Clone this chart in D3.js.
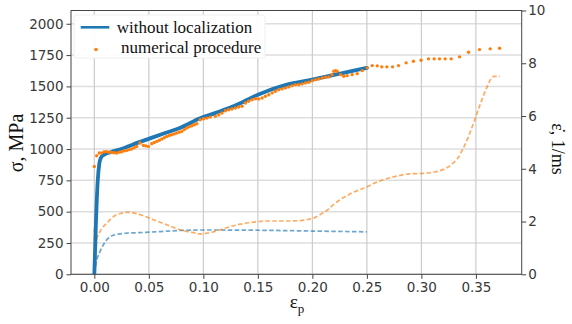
<!DOCTYPE html>
<html>
<head>
<meta charset="utf-8">
<script src="https://cdn.jsdelivr.net/npm/d3@7"></script>
<style>
  html, body { margin: 0; padding: 0; background: #fff; }
  svg { display: block; }
  .tick text { font-family: "DejaVu Sans", sans-serif; font-size: 13.5px; fill: #383838; }
  .tick line { stroke: #444; }
</style>
</head>
<body>
<svg id="chart" width="572" height="324"></svg>
<script>
// Stress–strain response (left axis, MPa)
const blueStrain = [0, 0.0015, 0.003, 0.0045, 0.006, 0.009, 0.015, 0.024, 0.035, 0.051, 0.065, 0.079, 0.097, 0.11, 0.1276, 0.15, 0.1766, 0.2, 0.2255, 0.25];
const blueStress = [0, 420, 730, 880, 930, 955, 975, 998, 1035, 1085, 1128, 1170, 1245, 1285, 1341, 1434, 1514, 1554, 1602, 1648];

// Numerical procedure points (left axis, MPa)
const dotStrain = [0.0, 0.0022, 0.0045, 0.0068, 0.0091, 0.0114, 0.0137, 0.016, 0.0183, 0.0206, 0.0229, 0.0251, 0.0274, 0.0297, 0.032, 0.0343, 0.0366, 0.0389, 0.0419, 0.045, 0.0473, 0.0496, 0.0527, 0.055, 0.0573, 0.0596, 0.0619, 0.0642, 0.0664, 0.0687, 0.071, 0.0733, 0.0756, 0.0779, 0.0802, 0.0825, 0.0848, 0.0871, 0.0894, 0.0917, 0.094,
  0.0972, 0.1003, 0.1033, 0.1064, 0.111, 0.1141, 0.1171, 0.1202, 0.1233, 0.1263, 0.1294, 0.1324, 0.1355, 0.1386, 0.1416, 0.1447, 0.1478, 0.1508, 0.1539, 0.1569, 0.16, 0.1631, 0.1661, 0.1692, 0.1722, 0.1753, 0.1784, 0.1814, 0.1845, 0.1876, 0.1906, 0.1937, 0.1967, 0.1998, 0.2029, 0.2059, 0.209, 0.212, 0.2151, 0.2181, 0.2197, 0.2212, 0.2227, 0.2258, 0.2288, 0.2319, 0.2365, 0.2411, 0.2457, 0.2503, 0.2549, 0.2595,
  0.2637, 0.2683, 0.2735, 0.279, 0.286, 0.2927, 0.2997, 0.3065, 0.3117, 0.3166, 0.3218, 0.3273, 0.335, 0.3432, 0.3533, 0.3631, 0.3717];
const dotStress = [861, 946, 968, 968, 978, 978, 975, 973, 970, 968, 975, 978, 985, 989, 995, 1000, 1010, 1021, 1048, 1029, 1025, 1021, 1042, 1052, 1061, 1070, 1080, 1090, 1101, 1108, 1114, 1121, 1128, 1135, 1141, 1155, 1168, 1177, 1186, 1194, 1202,
  1234, 1242, 1247, 1255, 1261, 1274, 1288, 1306, 1314, 1320, 1328, 1336, 1341, 1368, 1381, 1394, 1402, 1400, 1408, 1421, 1434, 1448, 1461, 1474, 1480, 1488, 1496, 1506, 1514, 1514, 1520, 1528, 1533, 1546, 1554, 1560, 1568, 1573, 1576, 1594, 1621, 1626, 1621, 1594, 1581, 1586, 1594, 1602, 1626, 1648, 1666, 1664,
  1656, 1656, 1656, 1666, 1688, 1701, 1709, 1720, 1720, 1720, 1720, 1720, 1736, 1773, 1794, 1800, 1805];

// Strain rate (right axis, 1/ms)
const rateBlueStrain = [0, 0.0022, 0.0052, 0.0083, 0.0128, 0.019, 0.0297, 0.042, 0.0603, 0.0786, 0.097, 0.15, 0.2, 0.25];
const rateBlue = [0.05, 0.54, 0.86, 1.12, 1.37, 1.5, 1.56, 1.58, 1.62, 1.66, 1.68, 1.67, 1.64, 1.61];

const rateOrangeStrain = [0, 0.0006, 0.0022, 0.0052, 0.0114, 0.0206, 0.0312, 0.042, 0.0541, 0.0664, 0.0786, 0.0909, 0.097, 0.106, 0.1156, 0.1248, 0.134, 0.1429, 0.1505, 0.158, 0.167, 0.1766, 0.1857, 0.1949, 0.201, 0.207, 0.2133, 0.2193, 0.2255, 0.2316, 0.2377, 0.2438, 0.25, 0.256, 0.2622, 0.2713, 0.2805, 0.2897, 0.2989, 0.308, 0.3157, 0.3234, 0.3295, 0.3326, 0.338, 0.343, 0.348, 0.354, 0.36, 0.3647, 0.3665, 0.372];
const rateOrange = [1.75, 0.1, 1.31, 1.62, 1.94, 2.26, 2.35, 2.26, 2.07, 1.88, 1.69, 1.58, 1.53, 1.58, 1.69, 1.81, 1.9, 1.96, 2.0, 2.02, 2.02, 2.02, 2.03, 2.07, 2.13, 2.26, 2.42, 2.64, 2.83, 2.98, 3.11, 3.21, 3.31, 3.44, 3.54, 3.66, 3.75, 3.81, 3.82, 3.85, 3.91, 4.04, 4.23, 4.35, 4.75, 5.2, 5.75, 6.45, 7.08, 7.46, 7.5, 7.5];

const xTicks = [0, 0.05, 0.10, 0.15, 0.20, 0.25, 0.30, 0.35];
const leftTicks = [0, 250, 500, 750, 1000, 1250, 1500, 1750, 2000];
const rightTicks = [0, 2, 4, 6, 8, 10];

const BLUE = "#1f77b4", ORANGE = "#ff7f0e";
const L = 71, R = 521.7, T = 10.5, B = 274.3;

const svg = d3.select("#chart");
const x = d3.scaleLinear().domain([-0.0214, 0.392]).range([L, R]);
const yL = d3.scaleLinear().domain([0, 2106]).range([B, T]);
const yR = d3.scaleLinear().domain([0, 10]).range([B, T]);

// grid
const grid = svg.append("g");
grid.selectAll(".gy").data(leftTicks).join("line")
  .attr("x1", L).attr("x2", R).attr("y1", d => yL(d)).attr("y2", d => yL(d))
  .attr("stroke", "#dedede").attr("stroke-width", 1.5);
grid.selectAll(".gx").data(xTicks).join("line")
  .attr("x1", d => x(d)).attr("x2", d => x(d)).attr("y1", T).attr("y2", B)
  .attr("stroke", "#cccccc").attr("stroke-width", 1.2);

svg.append("clipPath").attr("id", "plot").append("rect")
  .attr("x", L).attr("y", T).attr("width", R - L).attr("height", B - T);
const plot = svg.append("g").attr("clip-path", "url(#plot)");

// strain-rate curves (dashed)
const rateLine = d3.line().x(d => x(d[0])).y(d => yR(d[1])).curve(d3.curveMonotoneX);
plot.append("path").datum(d3.zip(rateBlueStrain, rateBlue))
  .attr("d", rateLine).attr("fill", "none").attr("stroke", BLUE).attr("stroke-opacity", 0.65)
  .attr("stroke-width", 1.7).attr("stroke-dasharray", "4.5,2.4");
plot.append("path").datum(d3.zip(rateOrangeStrain, rateOrange))
  .attr("d", rateLine).attr("fill", "none").attr("stroke", ORANGE).attr("stroke-opacity", 0.65)
  .attr("stroke-width", 1.7).attr("stroke-dasharray", "4.5,2.4");

// stress curve
const stressLine = d3.line().x(d => x(d[0])).y(d => yL(d[1])).curve(d3.curveMonotoneX);
plot.append("path").datum(d3.zip(blueStrain, blueStress))
  .attr("d", stressLine).attr("fill", "none").attr("stroke", BLUE)
  .attr("stroke-width", 3.8).attr("stroke-linejoin", "round").attr("stroke-linecap", "round");

// numerical procedure points
plot.selectAll(".dot").data(d3.zip(dotStrain, dotStress)).join("circle")
  .attr("cx", d => x(d[0])).attr("cy", d => yL(d[1])).attr("r", 1.7).attr("fill", ORANGE);

// frame
svg.append("rect").attr("x", L).attr("y", T).attr("width", R - L).attr("height", B - T)
  .attr("fill", "none").attr("stroke", "#444").attr("stroke-width", 1);

// axes
const fmtX = d3.format(".2f");
svg.append("g").attr("transform", `translate(0,${B})`)
  .call(d3.axisBottom(x).tickValues(xTicks).tickFormat(fmtX).tickSize(4.5).tickPadding(4))
  .call(g => g.select(".domain").remove());
svg.append("g").attr("transform", `translate(${L},0)`)
  .call(d3.axisLeft(yL).tickValues(leftTicks).tickFormat(d3.format("d")).tickSize(4.5).tickPadding(3))
  .call(g => g.select(".domain").remove());
svg.append("g").attr("transform", `translate(${R},0)`)
  .call(d3.axisRight(yR).tickValues(rightTicks).tickFormat(d3.format("d")).tickSize(4.5).tickPadding(2))
  .call(g => g.select(".domain").remove());

// axis titles
const serif = "'Liberation Serif', 'Times New Roman', serif";
svg.append("text").attr("transform", "translate(23,143) rotate(-90)")
  .attr("text-anchor", "middle").attr("font-family", serif).attr("font-size", 20).attr("fill", "#111")
  .text("σ, MPa");
svg.append("text").attr("transform", "translate(552,149) rotate(90)")
  .attr("text-anchor", "middle").attr("font-family", serif).attr("font-size", 18).attr("fill", "#111")
  .text("ε̇, 1/ms");
const xl = svg.append("text").attr("x", 297).attr("y", 308).attr("text-anchor", "middle")
  .attr("font-family", serif).attr("font-size", 19).attr("fill", "#111");
xl.append("tspan").text("ε");
xl.append("tspan").attr("font-size", 13).attr("dy", 5).text("p");

// legend
const lg = svg.append("g");
lg.append("rect").attr("x", 74).attr("y", 15).attr("width", 191).attr("height", 43)
  .attr("fill", "#fff").attr("fill-opacity", 0.92).attr("stroke", "#efefef").attr("rx", 2);
lg.append("line").attr("x1", 80.7).attr("x2", 109.3).attr("y1", 27.3).attr("y2", 27.3)
  .attr("stroke", BLUE).attr("stroke-width", 2.6);
lg.append("circle").attr("cx", 96).attr("cy", 49.5).attr("r", 1.8).attr("fill", ORANGE);
lg.append("text").attr("x", 116.7).attr("y", 33.3).attr("font-family", serif).attr("font-size", 17)
  .attr("fill", "#111").text("without localization");
lg.append("text").attr("x", 121).attr("y", 52.8).attr("font-family", serif).attr("font-size", 17)
  .attr("fill", "#111").text("numerical procedure");
</script>
</body>
</html>
